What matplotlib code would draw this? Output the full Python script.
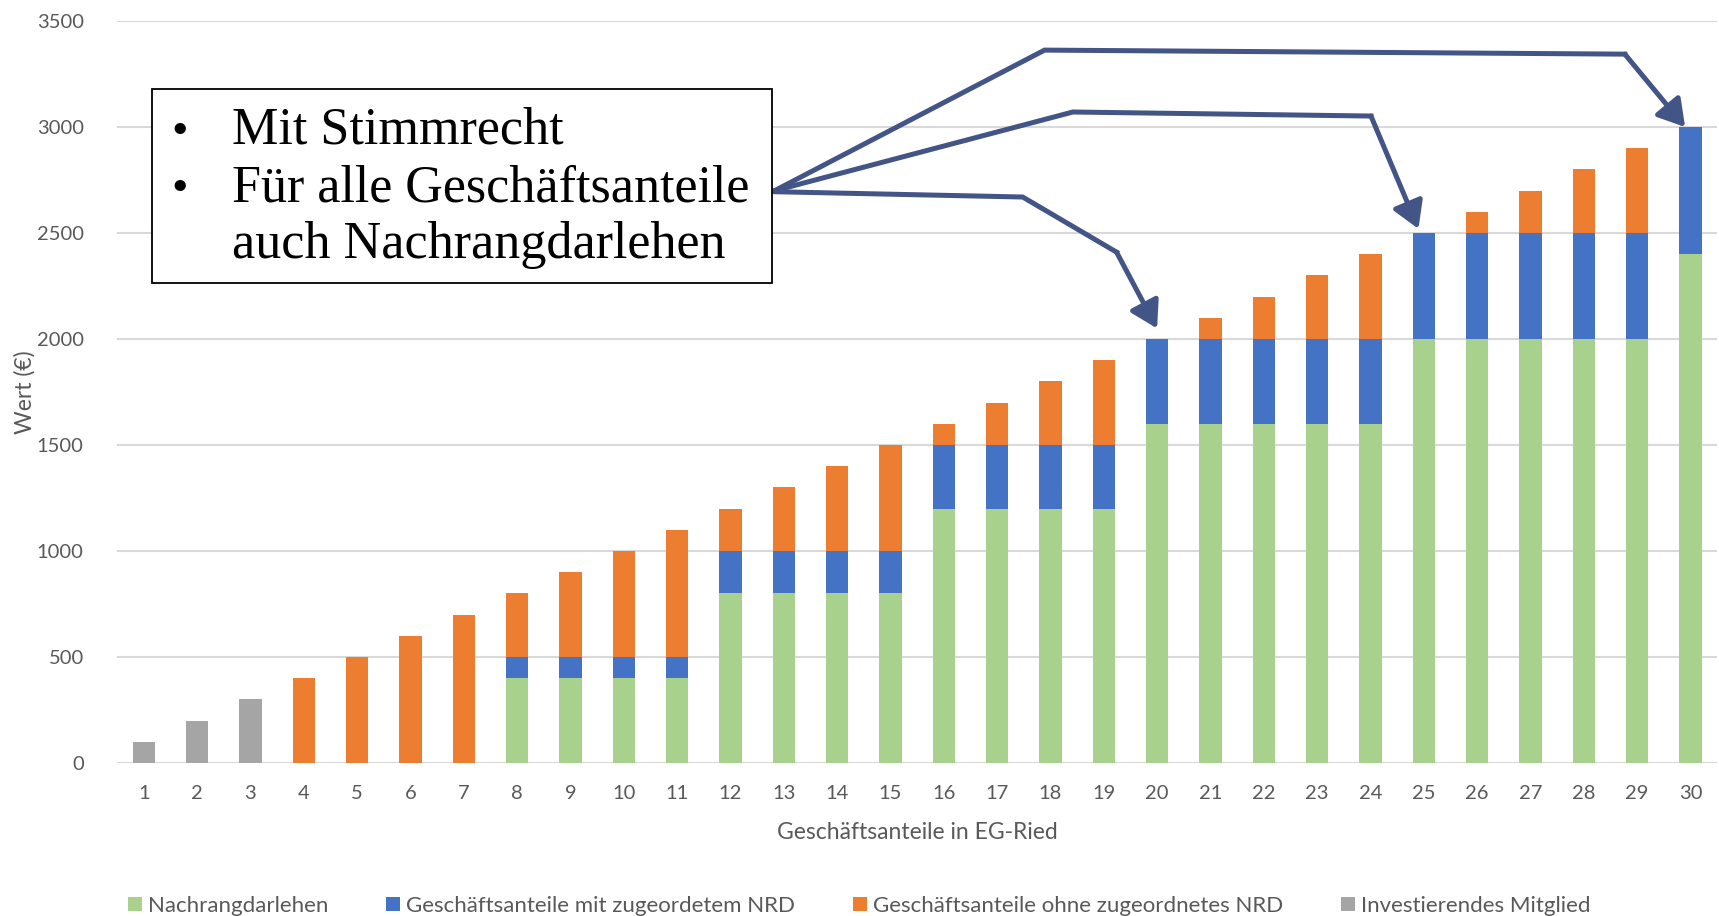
import numpy as np
import matplotlib.pyplot as plt
from matplotlib.patches import Rectangle, Patch

plt.rcParams["font.family"] = ["Lato", "DejaVu Sans"]

# data: shares 1..30, value in euro per component
shares = list(range(1, 31))
nachrang = [0, 0, 0, 0, 0, 0, 0,
            400, 400, 400, 400,
            800, 800, 800, 800,
            1200, 1200, 1200, 1200,
            1600, 1600, 1600, 1600, 1600,
            2000, 2000, 2000, 2000, 2000,
            2400]
mit_nrd = [0, 0, 0, 0, 0, 0, 0,
           100, 100, 100, 100,
           200, 200, 200, 200,
           300, 300, 300, 300,
           400, 400, 400, 400, 400,
           500, 500, 500, 500, 500,
           600]
ohne_nrd = [0, 0, 0, 400, 500, 600, 700,
            300, 400, 500, 600,
            200, 300, 400, 500,
            100, 200, 300, 400,
            0, 100, 200, 300, 400,
            0, 100, 200, 300, 400,
            0]
investierend = [100, 200, 300] + [0] * 27

series_labels = ["Nachrangdarlehen", "Geschäftsanteile mit zugeordetem NRD",
                 "Geschäftsanteile ohne zugeordnetes NRD", "Investierendes Mitglied"]
colors = ["#A9D18E", "#4472C4", "#ED7D31", "#A5A5A5"]

box_lines = ["Mit Stimmrecht", "Für alle Geschäftsanteile", "auch Nachrangdarlehen"]

# callout arrows (data coords: share index, euro)
arrow_paths = [
    [(12.83, 2700), (17.89, 3363), (28.77, 3344), (29.9, 3000)],
    [(12.83, 2700), (18.42, 3071), (24.01, 3052), (24.9, 2520)],
    [(12.83, 2695), (17.48, 2670), (19.24, 2410), (20.0, 2050)],
]

grid_col = "#D9D9D9"
text_col = "#595959"
arrow_col = "#435486"

fig = plt.figure(figsize=(17.19, 9.16), dpi=100)
ax = fig.add_axes([0.0681, 0.167, 0.9308, 0.810])

x = np.array(shares)
w = 0.42
bottom = np.zeros(len(shares))
for vals, col in zip([nachrang, mit_nrd, ohne_nrd, investierend], colors):
    vals = np.array(vals)
    ax.bar(x, vals, w, bottom=bottom, color=col, zorder=2)
    bottom += vals

ax.set_xlim(0.5, 30.5)
ax.set_ylim(0, 3500)
ax.set_yticks(range(0, 3501, 500))
ax.set_xticks(x)
ax.yaxis.grid(True, color=grid_col, linewidth=1.5, zorder=0)
ax.set_axisbelow(True)
for s in ax.spines.values():
    s.set_visible(False)
ax.tick_params(length=0, labelsize=14.5, colors=text_col)
ax.tick_params(axis="x", pad=16)
ax.tick_params(axis="y", pad=24)

ax.set_xlabel("Geschäftsanteile in EG-Ried", fontsize=16.5, color=text_col, labelpad=14)
ax.set_ylabel("Wert (€)", fontsize=16.5, color=text_col, labelpad=1)

# callout box
fig.patches.append(Rectangle((152 / 1719, 1 - 283 / 916), 620 / 1719, 194 / 916,
                             transform=fig.transFigure, facecolor="white",
                             edgecolor="black", linewidth=1.3, zorder=5))
for i, line in enumerate(box_lines):
    yb = 1 - (144 + 57 * i) / 916
    if i < 2:
        fig.text(180 / 1719, yb, "•", fontsize=34, family="Liberation Serif",
                 ha="center", va="baseline", zorder=6)
    fig.text(232 / 1719, yb, line, fontsize=37.5, family="Liberation Serif",
             ha="left", va="baseline", zorder=6)

for path in arrow_paths:
    xs, ys = zip(*path)
    ax.plot(xs[:-1], ys[:-1], color=arrow_col, lw=3.6, clip_on=False,
            solid_joinstyle="miter", zorder=7)
    ax.annotate("", xy=path[-1], xytext=path[-2],
                arrowprops=dict(arrowstyle="-|>,head_length=0.5,head_width=0.3",
                                color=arrow_col, lw=3.6,
                                mutation_scale=32, shrinkA=0, shrinkB=0),
                annotation_clip=False, zorder=7)

handles = [Patch(facecolor=c) for c in colors]
fig.legend(handles, series_labels, loc="lower center", bbox_to_anchor=(0.5, -0.022),
           ncol=4, frameon=False, fontsize=16, labelcolor=text_col,
           handlelength=0.6, handleheight=0.6, handletextpad=0.3, columnspacing=2.6)

fig.savefig("out.png", dpi=100)
